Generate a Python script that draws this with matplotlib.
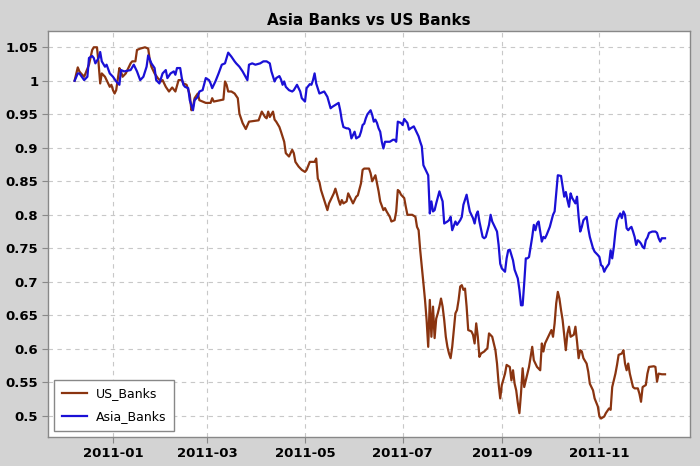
import matplotlib
matplotlib.use("Agg")
import matplotlib.pyplot as plt
import matplotlib.dates as mdates
from matplotlib.ticker import FuncFormatter
import pandas as pd

# Day offsets from 2011-01-01 and normalised values
base_date = "2011-01-01"

us_days = [-24, -22, -21, -20, -18, -15, -13, -12, -10, -9, -8, -7, -5, -3, -2, -1, 0, 1, 2, 4, 5, 6, 8, 11, 12, 14, 15, 17, 20, 22, 23, 24, 26, 28, 30, 31, 33, 35,
           37, 39, 41, 43, 44, 46, 48, 49, 50, 51, 53, 54, 56, 58, 61, 62, 63, 65, 67, 69, 70, 71, 72, 74, 76, 78, 79, 81, 83, 85, 88, 91, 93, 95, 96, 97, 98, 100, 101,
           102, 104, 105, 107, 108, 110, 112, 113, 114, 116, 118, 120, 121, 123, 126, 127, 128, 129, 130, 132, 134, 135, 136, 138, 139, 141, 142, 143, 144, 146, 147,
           149, 150, 152, 153, 155, 156, 157, 160, 161, 162, 164, 165, 166, 167, 169, 170, 171, 173, 174, 176, 177, 178, 179, 180, 182, 183, 184, 186, 187, 189, 190,
           191, 192, 193, 194, 195, 196, 197, 198, 199, 200, 201, 202, 203, 204, 205, 206, 207, 208, 209, 210, 211, 212, 213, 214, 215, 216, 217, 218, 219, 220, 221,
           222, 224, 225, 226, 227, 228, 229, 230, 232, 234, 235, 237, 238, 239, 240, 241, 242, 243, 245, 246, 248, 249, 250, 251, 252, 253, 254, 255, 256, 257, 258,
           259, 260, 261, 262, 263, 264, 265, 267, 268, 269, 270, 271, 273, 274, 275, 276, 277, 278, 279, 280, 281, 282, 283, 284, 285, 286, 288, 289, 290, 291, 292,
           293, 294, 296, 297, 298, 300, 301, 303, 304, 305, 307, 308, 310, 311, 312, 313, 314, 315, 316, 318, 319, 320, 321, 322, 323, 325, 326, 328, 329, 330, 331,
           333, 334, 335, 338, 339, 340, 341, 343, 345]
us_banks = [1.000, 1.020, 1.014, 1.011, 1.006, 1.024, 1.046, 1.050, 1.050, 1.026, 0.996, 1.011, 1.006, 0.996, 0.991, 0.994, 0.986, 0.981, 0.986, 1.019, 1.014, 1.006,
            1.011, 1.026, 1.029, 1.029, 1.046, 1.048, 1.050, 1.048, 1.031, 1.021, 1.011, 1.004, 0.999, 1.001, 0.991, 0.984,
            0.990, 0.984, 1.001, 1.001, 0.996, 0.994, 0.979, 0.956, 0.961, 0.974, 0.981, 0.971, 0.969, 0.967, 0.967, 0.974, 0.969, 0.970, 0.971, 0.972, 0.999, 0.994,
            0.984, 0.984, 0.981, 0.974, 0.951, 0.937, 0.928, 0.939, 0.940, 0.941, 0.954, 0.946, 0.944, 0.954, 0.946, 0.954, 0.942,
            0.939, 0.931, 0.924, 0.909, 0.892, 0.887, 0.897, 0.892, 0.879, 0.872, 0.867, 0.864, 0.867, 0.879, 0.879, 0.884, 0.854, 0.849, 0.837, 0.822, 0.807, 0.817,
            0.822, 0.832, 0.839, 0.822, 0.815, 0.822, 0.817, 0.820, 0.832,
            0.822, 0.817, 0.827, 0.829, 0.847, 0.867, 0.869, 0.869, 0.862, 0.850, 0.859, 0.847, 0.835, 0.820, 0.807, 0.810, 0.805, 0.797, 0.790, 0.792, 0.805, 0.837,
            0.835, 0.830, 0.825, 0.812, 0.800, 0.800, 0.800, 0.797, 0.782,
            0.777, 0.747, 0.723, 0.698, 0.673, 0.643, 0.603, 0.673, 0.618, 0.663, 0.616, 0.645, 0.653, 0.663, 0.675, 0.663, 0.643, 0.618, 0.603, 0.593, 0.586, 0.603,
            0.628, 0.653, 0.658, 0.673, 0.693, 0.695, 0.688, 0.690, 0.663,
            0.628, 0.626, 0.621, 0.608, 0.638, 0.618, 0.588, 0.593, 0.596, 0.601, 0.623, 0.618, 0.608, 0.598, 0.578, 0.548, 0.526, 0.546, 0.563, 0.576, 0.573, 0.553,
            0.568, 0.548, 0.538, 0.519, 0.504, 0.534, 0.571, 0.543, 0.553,
            0.563, 0.573, 0.588, 0.603, 0.583, 0.578, 0.573, 0.568, 0.608, 0.596, 0.608, 0.613, 0.623, 0.628, 0.618, 0.638, 0.668, 0.685, 0.675, 0.658, 0.643, 0.621,
            0.598, 0.623, 0.633, 0.618, 0.621, 0.633, 0.611, 0.586, 0.598,
            0.596, 0.586, 0.578, 0.566, 0.548, 0.538, 0.526, 0.514, 0.499, 0.496, 0.499, 0.504, 0.511, 0.509, 0.543, 0.553, 0.563, 0.576, 0.591, 0.593, 0.598, 0.578,
            0.568, 0.578, 0.563, 0.543, 0.541, 0.541, 0.533, 0.521, 0.543,
            0.546, 0.563, 0.573, 0.574, 0.573, 0.551, 0.563, 0.562, 0.562]

asia_days = [-24, -22, -21, -18, -16, -15, -13, -12, -11, -9, -8, -7, -5, -4, -2, 0, 2, 4, 5, 7, 11, 13, 15, 17, 19, 21, 22, 24, 26, 27, 29, 31, 33, 34, 36, 38, 39,
             40, 42, 43, 44, 45, 47, 48, 50, 51, 53, 54, 56, 58, 60, 61, 62, 64, 66, 68, 70, 72, 74, 76, 77, 79, 81, 84, 85, 87, 89, 92, 94, 96, 98, 99, 101, 102, 104,
             105, 106, 107, 108, 110, 112, 113, 115, 117, 118, 120, 121, 123, 124, 125, 126, 127, 129, 130, 132, 134, 136, 137, 139, 141, 142, 143, 144, 146, 147, 148,
             149, 151, 152, 154, 155, 156, 157, 158, 159, 161, 162, 163, 164, 165, 166, 167, 168, 169, 170, 171, 173, 175, 176, 177, 178, 180, 181, 182, 184, 185, 186,
             188, 189, 191, 192, 193, 194, 195, 196, 197, 198, 199, 200, 201, 202, 204, 205, 206, 207, 209, 210, 211, 212, 214, 215, 217, 218, 219, 221, 222, 223, 225,
             226, 227, 228, 229, 231, 232, 233, 235, 236, 237, 239, 240, 241, 242, 243, 245, 246, 247, 248, 250, 251, 253, 254, 255, 256, 257, 258, 259, 260, 262, 263,
             264, 265, 266, 268, 269, 270, 271, 273, 275, 276, 277, 278, 280, 282, 283, 284, 285, 286, 287, 289, 290, 291, 292, 293, 294, 296, 297, 298, 300, 301, 303,
             304, 305, 306, 307, 308, 310, 311, 312, 313, 314, 315, 316, 317, 318, 319, 320, 321, 322, 323, 324, 325, 326, 327, 328, 329, 330, 331, 332, 333, 334, 335,
             337, 339, 340, 341, 342, 343, 345]
asia_banks = [1.000, 1.011, 1.011, 1.001, 1.006, 1.034, 1.037, 1.034, 1.026, 1.034, 1.043, 1.029, 1.021, 1.024, 1.011, 1.006, 0.999, 0.994, 1.016, 1.014, 1.016,
              1.024, 1.014, 1.001, 1.006, 1.021, 1.038, 1.026, 1.019, 1.001, 0.996, 1.011, 1.016, 1.004, 1.011, 1.014, 1.009,
              1.019, 1.019, 1.004, 0.994, 0.991, 0.989, 0.971, 0.956, 0.971, 0.976, 0.984, 0.986, 1.004, 1.001, 0.996, 0.989, 0.999, 1.011, 1.024, 1.026, 1.042,
              1.036, 1.029, 1.026, 1.021, 1.014, 1.001, 1.024, 1.026, 1.024, 1.026, 1.029, 1.029, 1.026, 1.014, 0.999, 1.004, 1.007,
              1.002, 0.994, 0.999, 0.991, 0.986, 0.984, 0.986, 0.994, 0.984, 0.974, 0.969, 0.989, 0.995, 0.994, 1.001, 1.011, 0.996, 0.981, 0.982, 0.984, 0.976,
              0.959, 0.961, 0.964, 0.967, 0.956, 0.941, 0.931, 0.929, 0.929, 0.927,
              0.914, 0.924, 0.914, 0.917, 0.924, 0.934, 0.936, 0.944, 0.950, 0.956, 0.949, 0.939, 0.942, 0.937, 0.929, 0.924, 0.909, 0.899, 0.909, 0.909, 0.909,
              0.912, 0.912, 0.909, 0.939, 0.937, 0.934, 0.943, 0.937, 0.927, 0.929,
              0.932, 0.927, 0.917, 0.909, 0.902, 0.874, 0.869, 0.864, 0.859, 0.802, 0.820, 0.805, 0.807, 0.817, 0.835, 0.827, 0.820, 0.787, 0.790, 0.792, 0.797,
              0.777, 0.790, 0.785, 0.792, 0.797, 0.815, 0.830, 0.817, 0.805, 0.795,
              0.787, 0.800, 0.805, 0.790, 0.767, 0.765, 0.767, 0.785, 0.800, 0.790, 0.780, 0.775, 0.755, 0.727, 0.720, 0.715, 0.735, 0.747, 0.748, 0.732, 0.718,
              0.705, 0.688, 0.665, 0.665, 0.698, 0.735, 0.735, 0.737, 0.767, 0.785,
              0.777, 0.787, 0.790, 0.760, 0.767, 0.765, 0.770, 0.782, 0.800, 0.805, 0.832, 0.859, 0.858, 0.827, 0.834, 0.822, 0.812, 0.832, 0.825, 0.817, 0.827,
              0.797, 0.775, 0.782, 0.792, 0.797, 0.780, 0.767, 0.750, 0.745, 0.740,
              0.737, 0.725, 0.723, 0.715, 0.720, 0.727, 0.747, 0.735, 0.752, 0.775, 0.792, 0.797, 0.802, 0.795, 0.805, 0.800, 0.780, 0.777, 0.780, 0.782, 0.775,
              0.767, 0.755, 0.762, 0.760, 0.757, 0.752, 0.750, 0.762, 0.766, 0.773,
              0.775, 0.775, 0.773, 0.765, 0.760, 0.765, 0.765]

series_labels = ["US_Banks", "Asia_Banks"]
y_ticks = [0.5, 0.55, 0.6, 0.65, 0.7, 0.75, 0.8, 0.85, 0.9, 0.95, 1.0, 1.05]
title_text = "Asia Banks vs US Banks"

base = pd.Timestamp(base_date)
us_dates = base + pd.to_timedelta(us_days, unit="D")
asia_dates = base + pd.to_timedelta(asia_days, unit="D")

fig = plt.figure(figsize=(7.0, 4.66), dpi=100, facecolor="#d3d3d3")
ax = fig.add_axes([0.0686, 0.0622, 0.9171, 0.8723])
ax.set_facecolor("white")

ax.plot(us_dates, us_banks, color="#8a3410", lw=1.6, label=series_labels[0])
ax.plot(asia_dates, asia_banks, color="#1a10d6", lw=1.6, label=series_labels[1])

ax.set_xlim(base + pd.Timedelta(days=-40.6), base + pd.Timedelta(days=360.6))
ax.set_ylim(0.4684, 1.075)

ax.xaxis.set_major_locator(mdates.MonthLocator(bymonth=[1, 3, 5, 7, 9, 11]))
ax.xaxis.set_major_formatter(mdates.DateFormatter("%Y-%m"))
ax.set_yticks(y_ticks)
ax.yaxis.set_major_formatter(FuncFormatter(lambda v, p: "%g" % round(v, 2)))

for lab in ax.get_xticklabels() + ax.get_yticklabels():
    lab.set_fontweight("bold")
    lab.set_fontsize(9.5)
ax.tick_params(axis="both", length=4, color="#888888", pad=3)

ax.grid(True, linestyle=(0, (4, 4)), color="#c8c8c8", linewidth=0.8)
for s in ax.spines.values():
    s.set_color("#888888")
    s.set_linewidth(1.0)

ax.set_title(title_text, fontsize=11, fontweight="bold", pad=4)

leg = ax.legend(loc="lower left", fancybox=False, fontsize=9, edgecolor="#888888",
                handlelength=2.0, handletextpad=0.7, borderpad=0.6, labelspacing=0.8,
                framealpha=1)
leg.get_frame().set_linewidth(1.0)

fig.savefig("out.png", dpi=100, facecolor=fig.get_facecolor())
